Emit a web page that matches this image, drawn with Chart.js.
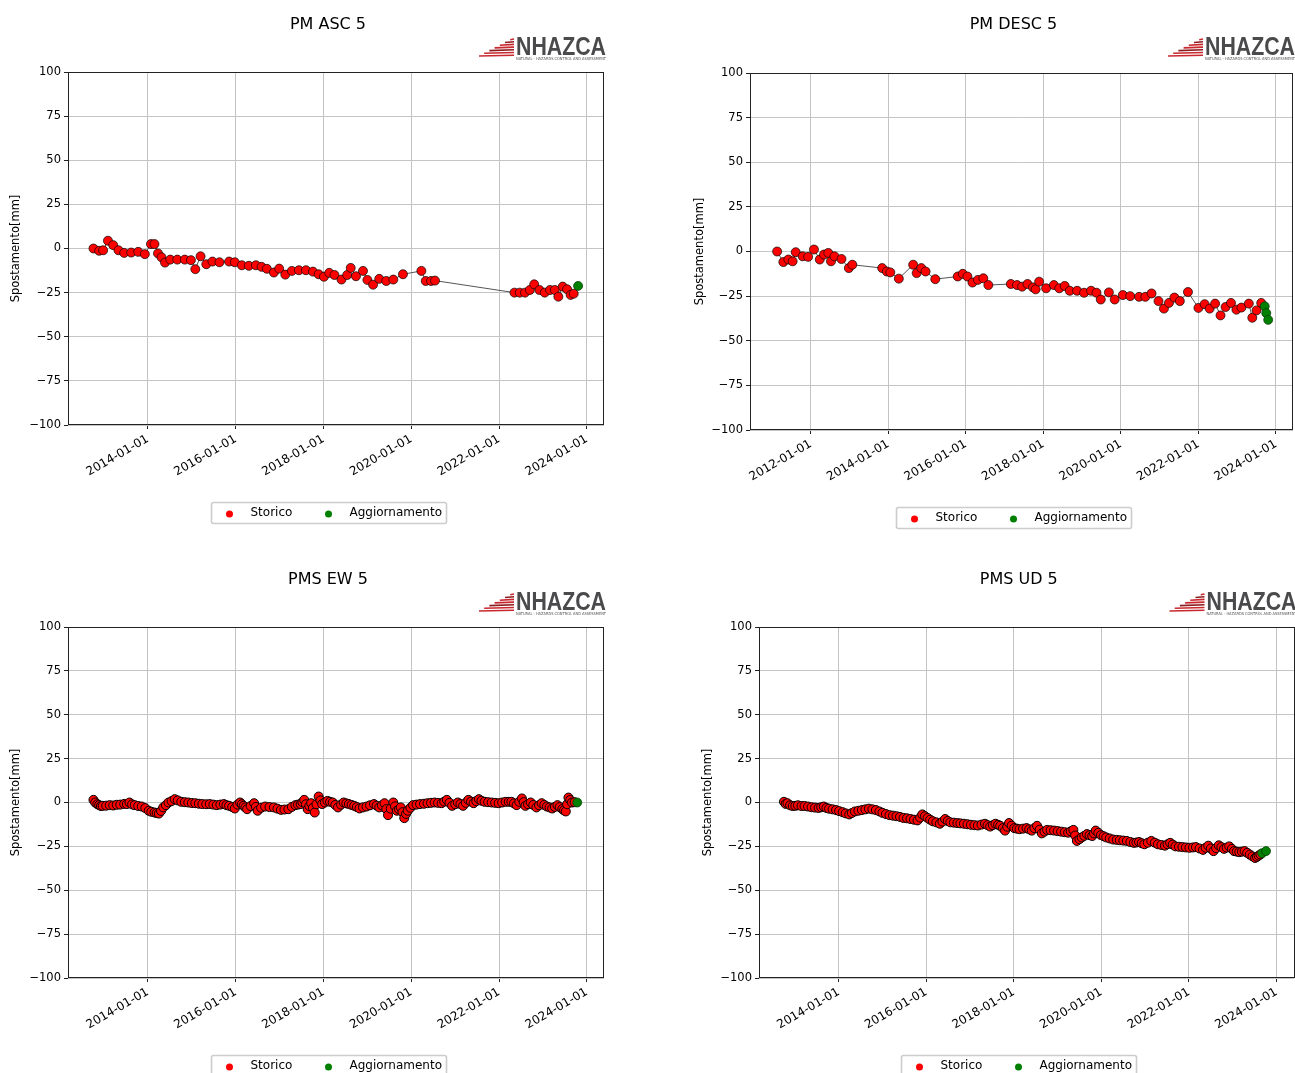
<!DOCTYPE html>
<html>
<head>
<meta charset="utf-8">
<script src="https://cdn.jsdelivr.net/npm/chart.js@4.4.0/dist/chart.umd.min.js"></script>
<style>
  body { margin: 0; background: #fff; overflow: hidden; width: 1295px; height: 1073px; position: relative; }
  canvas { position: absolute; }
</style>
</head>
<body>
<canvas id="asc" width="647" height="540" style="left:0;top:0"></canvas>
<canvas id="desc" width="620" height="540" style="left:680px;top:0"></canvas>
<canvas id="ew" width="647" height="540" style="left:0;top:555px"></canvas>
<canvas id="ud" width="620" height="540" style="left:680px;top:555px"></canvas>
<script>
// data, dates as decimal years, values in mm
var ascDates = [2012.76,2012.89,2012.98,2013.09,2013.21,2013.33,2013.46,2013.62,2013.78,2013.93,
  2014.07,2014.15,2014.23,2014.31,2014.39,2014.51,2014.67,2014.84,2014.98,
  2015.08,2015.20,2015.33,2015.47,2015.63,2015.85,2015.98,
  2016.14,2016.30,2016.46,2016.59,2016.71,2016.87,2016.99,
  2017.13,2017.28,2017.44,2017.60,2017.76,2017.89,
  2018.01,2018.13,2018.25,2018.41,2018.54,2018.62,2018.74,2018.90,
  2019.00,2019.13,2019.27,2019.43,2019.59,2019.81,
  2020.23,2020.33,2020.45,2020.54,
  2022.35,2022.47,2022.59,2022.70,2022.80,2022.92,2023.04,2023.16,2023.27,2023.35,2023.45,2023.55,2023.63,2023.70];
var ascValues = [0,-1.3,-1,4.4,1.9,-1,-2.5,-2.3,-1.9,-3.2,
  2.5,2.5,-2.8,-5,-8,-6.3,-6.3,-6.3,-6.6,
  -11.7,-4.4,-8.9,-7.4,-7.8,-7.4,-7.8,
  -9.5,-9.8,-9.5,-10.4,-11.5,-13.6,-11.4,
  -14.8,-12.7,-12.3,-12.3,-13.1,-14.6,
  -16,-13.8,-15,-17.6,-15,-11,-15.7,-12.7,
  -17.8,-20.5,-17.2,-18.4,-17.6,-14.6,
  -12.7,-18.4,-18.4,-18.2,
  -25,-25,-25,-23.5,-20.3,-23.5,-25,-23.5,-23.5,-27.3,-21.6,-23.1,-26.3,-25.6];
var ascNewDates = [2023.80];
var ascNewValues = [-21.2];

var descDates = [2011.13,2011.29,2011.42,2011.53,2011.61,2011.79,2011.93,
  2012.08,2012.23,2012.34,2012.45,2012.52,2012.61,2012.79,2012.98,
  2013.07,2013.84,2013.96,
  2014.05,2014.27,2014.64,2014.73,2014.85,2014.96,
  2015.21,2015.79,2015.92,
  2016.04,2016.17,2016.31,2016.45,2016.58,
  2017.16,2017.32,2017.45,2017.59,2017.73,2017.80,2017.89,
  2018.07,2018.27,2018.41,2018.55,2018.68,2018.87,
  2019.05,2019.23,2019.37,2019.48,2019.69,2019.84,
  2020.05,2020.24,2020.47,2020.63,2020.79,2020.97,
  2021.11,2021.24,2021.38,2021.52,2021.73,
  2022.00,2022.16,2022.29,2022.43,2022.57,2022.70,2022.84,2022.98,
  2023.11,2023.30,2023.39,2023.50,2023.62];
var descValues = [0,-5.9,-4.5,-5.5,-0.4,-2.7,-3,
  1.1,-4.5,-1.7,-0.8,-5.5,-2.7,-4.2,-9.3,
  -7.4,-9.3,-11.2,
  -11.7,-15.2,-7.4,-12.1,-9.3,-11.2,
  -15.5,-14,-12.5,
  -14,-17.4,-15.9,-15,-18.8,
  -18.2,-18.8,-19.7,-18.2,-20.1,-21.2,-16.9,
  -20.6,-18.8,-20.6,-19.3,-22,-22,
  -23.1,-22,-23.1,-26.9,-22.9,-26.9,
  -24.4,-25,-25.4,-25.4,-23.5,-27.8,
  -32,-28.8,-25.8,-27.8,-22.7,
  -31.6,-29.5,-32,-29.2,-35.8,-31.1,-28.8,-32.6,
  -31.4,-29.2,-37.1,-33,-28.8];
var descNewDates = [2023.71,2023.75,2023.80];
var descNewValues = [-30.7,-34.5,-38.3];

var ewDates = [2012.76,2012.80,2012.85,2012.89,2012.93,2012.97,2013.05,2013.13,2013.21,2013.29,2013.37,2013.46,2013.52,2013.58,2013.64,2013.70,2013.78,2013.86,2013.94,
  2014.02,2014.08,2014.15,2014.20,2014.25,2014.30,2014.35,2014.41,2014.47,2014.54,2014.61,2014.68,2014.76,2014.84,2014.92,
  2015.00,2015.08,2015.16,2015.24,2015.33,2015.41,2015.49,2015.57,2015.65,2015.73,2015.79,2015.85,2015.92,2015.98,
  2016.04,2016.10,2016.14,2016.18,2016.22,2016.26,2016.34,2016.42,2016.46,2016.50,2016.58,2016.67,2016.77,2016.87,2016.95,
  2017.03,2017.11,2017.20,2017.28,2017.36,2017.42,2017.48,2017.52,2017.56,2017.60,2017.64,2017.68,2017.72,2017.76,2017.80,2017.84,2017.89,2017.93,2017.97,
  2018.03,2018.09,2018.15,2018.21,2018.27,2018.33,2018.40,2018.46,2018.52,2018.58,2018.64,2018.70,2018.76,2018.82,2018.90,2018.98,
  2019.06,2019.15,2019.21,2019.27,2019.33,2019.39,2019.43,2019.47,2019.53,2019.59,2019.63,2019.67,2019.72,2019.76,2019.80,2019.84,2019.88,2019.92,2019.98,
  2020.04,2020.12,2020.20,2020.29,2020.37,2020.45,2020.53,2020.61,2020.69,2020.75,2020.81,2020.87,2020.93,
  2021.00,2021.06,2021.12,2021.18,2021.24,2021.30,2021.36,2021.42,2021.48,2021.54,2021.60,2021.67,2021.75,2021.83,2021.91,2021.99,
  2022.07,2022.15,2022.22,2022.28,2022.34,2022.40,2022.46,2022.52,2022.56,2022.60,2022.66,2022.72,2022.78,2022.85,2022.91,2022.97,
  2023.03,2023.09,2023.15,2023.21,2023.27,2023.33,2023.38,2023.44,2023.48,2023.52,2023.55,2023.58,2023.62,2023.66,2023.72];
var ewValues = [1.5,0,-1.0,-1.5,-2.0,-1.9,-1.8,-1.5,-1.7,-1.3,-1.2,-0.8,-0.9,0,-1.1,-1.5,-2.0,-2.3,-3.2,
  -4.7,-5.3,-5.7,-6.0,-6.3,-4.8,-2.8,-1.5,0,0.8,1.9,1.2,0.4,0.2,0,
  -0.3,-0.4,-0.7,-0.9,-1.0,-0.9,-1.2,-1.5,-1.2,-0.9,-1.5,-1.9,-2.6,-3.4,
  -1.2,0,-1.0,-1.9,-2.8,-3.8,-2.0,-0.4,-2.5,-4.7,-3.0,-2.3,-2.6,-2.8,-3.5,
  -4.2,-4.0,-3.8,-2.5,-1.5,-1.2,-0.9,0.2,1.5,-1.0,-3.8,-2.0,-0.4,-3.0,-5.7,-1.0,3.4,1.2,-0.9,
  0,0.9,0.4,0,-1.4,-2.8,-1.2,0,-0.5,-0.9,-1.4,-1.9,-2.6,-3.4,-2.8,-2.3,
  -1.6,-0.9,-1.8,-2.8,-1.6,-0.4,-3.8,-7.2,-3.5,0,-2.2,-4.7,-3.8,-2.8,-5.5,-8.9,-6.5,-4.7,-3.0,
  -1.5,-1.2,-0.9,-0.7,-0.4,-0.2,0,-0.2,-0.4,0.5,1.5,-0.2,-1.9,
  -1.0,0,-0.9,-1.9,-0.2,1.5,0.5,-0.4,0.8,1.9,1.0,0.4,0.2,0,-0.2,-0.4,
  0,0.4,0.4,0.4,-0.5,-1.5,0.4,2.3,0.2,-1.9,-1.0,0,-1.4,-2.8,-1.6,-0.4,
  -1.4,-2.3,-2.8,-3.4,-2.5,-1.5,-2.6,-3.8,-4.5,-5.1,-1.0,2.8,1.4,0,0.2];
var ewNewDates = [2023.78];
var ewNewValues = [0];

var udDates = [2012.75,2012.79,2012.83,2012.89,2012.95,
  2013.01,2013.07,2013.15,2013.22,2013.30,2013.38,2013.46,2013.54,2013.60,2013.66,2013.72,2013.78,2013.86,2013.94,
  2014.01,2014.09,2014.16,2014.24,2014.30,2014.37,2014.45,2014.53,2014.61,2014.69,2014.77,2014.85,2014.93,
  2015.00,2015.08,2015.16,2015.24,2015.32,2015.40,2015.48,2015.56,2015.64,2015.72,2015.80,2015.86,2015.91,2015.97,
  2016.03,2016.09,2016.15,2016.23,2016.31,2016.37,2016.43,2016.49,2016.55,2016.63,2016.71,2016.78,2016.86,2016.94,
  2017.02,2017.10,2017.18,2017.26,2017.34,2017.40,2017.46,2017.52,2017.58,2017.64,2017.69,2017.75,2017.80,2017.85,2017.89,2017.95,
  2018.01,2018.07,2018.13,2018.21,2018.29,2018.35,2018.41,2018.47,2018.53,2018.59,2018.64,2018.70,2018.76,2018.84,2018.92,
  2019.00,2019.08,2019.16,2019.24,2019.30,2019.36,2019.40,2019.44,2019.50,2019.55,2019.61,2019.67,2019.73,2019.79,2019.83,2019.87,2019.93,2019.99,
  2020.05,2020.11,2020.19,2020.27,2020.35,2020.42,2020.50,2020.58,2020.66,2020.74,2020.80,2020.86,2020.92,2020.98,
  2021.06,2021.14,2021.22,2021.29,2021.37,2021.45,2021.51,2021.57,2021.63,2021.69,2021.77,2021.85,2021.93,
  2022.01,2022.09,2022.16,2022.24,2022.32,2022.38,2022.44,2022.50,2022.56,2022.62,2022.68,2022.74,2022.80,2022.86,2022.92,2022.98,
  2023.03,2023.09,2023.15,2023.21,2023.27,2023.33,2023.39,2023.45,2023.51,2023.55,2023.59,2023.63];
var udValues = [0.4,-0.8,-0.4,-1.6,-2.0,
  -1.9,-1.6,-2.0,-2.0,-2.3,-2.7,-2.9,-3.1,-2.7,-2.3,-3.1,-3.5,-3.9,-4.3,
  -4.9,-5.5,-6.2,-6.8,-6.0,-5.1,-4.7,-4.3,-3.9,-3.5,-3.9,-4.3,-5.1,
  -5.9,-6.6,-7.2,-7.5,-7.8,-8.2,-8.8,-9.0,-9.4,-9.8,-10.2,-8.6,-6.8,-7.8,
  -8.8,-9.8,-10.7,-11.3,-12.1,-10.9,-9.4,-10.5,-11.3,-11.5,-11.7,-11.9,-12.1,-12.4,
  -12.7,-12.9,-13.1,-12.6,-12.1,-12.9,-13.7,-12.9,-12.1,-12.7,-13.3,-14.6,-16.0,-13.8,-11.7,-13.2,
  -14.6,-14.9,-15.2,-14.9,-14.6,-15.3,-16.0,-14.6,-13.3,-15.5,-17.6,-16.6,-15.6,-15.8,-16.0,
  -16.3,-16.6,-16.9,-17.2,-16.4,-15.6,-18.8,-21.9,-20.9,-19.9,-19.0,-18.0,-18.6,-19.1,-17.6,-16.0,-17.3,-18.6,
  -19.2,-19.9,-20.5,-21.1,-21.3,-21.5,-21.7,-21.9,-22.5,-23.0,-22.8,-22.5,-23.2,-23.8,
  -22.9,-21.9,-22.9,-23.8,-24.2,-24.6,-23.8,-23.0,-24.0,-25.0,-25.2,-25.4,-25.6,
  -25.8,-25.6,-25.4,-26.2,-27.0,-25.8,-24.6,-26.2,-27.7,-26.0,-24.4,-25.4,-26.4,-25.7,-25.0,-26.4,
  -27.7,-28.0,-28.3,-28.0,-27.7,-28.7,-29.7,-30.7,-31.6,-31.0,-30.3,-29.6];
var udNewDates = [2023.67,2023.76];
var udNewValues = [-28.9,-27.7];

var yTicks = [-100, -75, -50, -25, 0, 25, 50, 75, 100];
var xTicksLong = [2012, 2014, 2016, 2018, 2020, 2022, 2024];
var xTicksShort = [2014, 2016, 2018, 2020, 2022, 2024];
var legendLabels = ['Storico', 'Aggiornamento'];

Chart.defaults.font.family = '"DejaVu Sans", sans-serif';
Chart.defaults.color = '#000';

function pts(dates, values) {
  return dates.map(function (d, i) { return { x: d, y: values[i] }; });
}

function drawLogo(ctx, right, base) {
  ctx.font = 'bold 25px "Liberation Sans Narrow", "Liberation Sans"';
  ctx.textAlign = 'right';
  ctx.textBaseline = 'alphabetic';
  ctx.fillStyle = '#4a4a4c';
  ctx.fillText('NHAZCA', right, base, 90);
  var w = Math.min(ctx.measureText('NHAZCA').width, 90);
  var left = right - w;
  // striped wedge
  ctx.lineWidth = 1.6;
  for (var i = 0; i < 7; i++) {
    var y = base + 1 - i * 2.7;
    ctx.strokeStyle = i % 3 === 2 ? '#8c1c20' : '#c8282e';
    ctx.beginPath();
    ctx.moveTo(left - 37 + i * 5.2, y);
    ctx.lineTo(left - 2, y - 0.8);
    ctx.stroke();
  }
  ctx.font = '4px "DejaVu Sans"';
  ctx.textAlign = 'left';
  ctx.fillStyle = '#555';
  ctx.fillText('NATURAL - HAZARDS CONTROL AND ASSESSMENT', left, base + 4.5, w);
}

var panelDeco = {
  id: 'panelDeco',
  afterDraw: function (chart, args, opts) {
    var ctx = chart.ctx, a = chart.chartArea;
    var cx = (a.left + a.right) / 2 - 8;
    ctx.save();
    // frame
    ctx.strokeStyle = '#222';
    ctx.lineWidth = 1;
    ctx.strokeRect(Math.round(a.left) + 0.5, Math.round(a.top) + 0.5,
      Math.round(a.right - a.left) - 1, Math.round(a.bottom - a.top) - 1);
    // title
    ctx.fillStyle = '#000';
    ctx.font = '16px "DejaVu Sans"';
    ctx.textAlign = 'center';
    ctx.textBaseline = 'middle';
    ctx.fillText(opts.title, cx, 25);
    drawLogo(ctx, a.right + 2, 55);
    // legend
    var bw = 235, bh = 21;
    var bx = Math.round(cx - bw / 2) + 0.5, by = Math.round(a.bottom + 77) + 0.5;
    ctx.strokeStyle = '#cccccc';
    ctx.fillStyle = '#fff';
    ctx.beginPath();
    ctx.roundRect(bx, by, bw, bh, 2);
    ctx.fill();
    ctx.stroke();
    var cols = ['red', 'green'];
    var offs = [18, 117];
    ctx.font = '12px "DejaVu Sans"';
    ctx.textAlign = 'left';
    ctx.textBaseline = 'middle';
    for (var i = 0; i < 2; i++) {
      ctx.fillStyle = cols[i];
      ctx.beginPath();
      ctx.arc(bx + offs[i], by + bh / 2 + 1, 3.5, 0, Math.PI * 2);
      ctx.fill();
      ctx.fillStyle = '#000';
      ctx.fillText(legendLabels[i], bx + offs[i] + 21, by + bh / 2);
    }
    ctx.restore();
  }
};

function makePanel(id, cfg) {
  return new Chart(document.getElementById(id), {
    type: 'scatter',
    data: {
      datasets: [{
        label: legendLabels[1],
        data: pts(cfg.newDates, cfg.newValues),
        backgroundColor: 'green',
        borderColor: '#003300',
        pointRadius: 4.5,
        pointBorderWidth: 0.7,
        showLine: false,
        order: 0
      }, {
        label: legendLabels[0],
        data: pts(cfg.dates, cfg.values),
        showLine: true,
        borderColor: '#555',
        borderWidth: 1,
        pointBackgroundColor: 'red',
        pointBorderColor: '#000',
        pointBorderWidth: cfg.edge,
        pointRadius: 4.5,
        order: 1
      }]
    },
    options: {
      responsive: false,
      animation: false,
      devicePixelRatio: 1,
      layout: { padding: { top: cfg.top, right: cfg.right, left: 0, bottom: 0 } },
      plugins: {
        legend: { display: false },
        tooltip: { enabled: false },
        panelDeco: { title: cfg.title }
      },
      scales: {
        x: {
          type: 'linear',
          min: cfg.xmin,
          max: cfg.xmax,
          afterBuildTicks: function (s) { s.ticks = cfg.xticks.map(function (v) { return { value: v }; }); },
          afterFit: function (s) { s.height = cfg.xh; },
          ticks: {
            autoSkip: false,
            minRotation: 30,
            maxRotation: 30,
            padding: 3,
            font: { size: 12 },
            callback: function (v) { return Math.round(v) + '-01-01'; }
          },
          grid: { color: '#c4c4c4', tickColor: '#222', tickLength: 4 },
          border: { display: false }
        },
        y: {
          min: -100,
          max: 100,
          afterBuildTicks: function (s) { s.ticks = yTicks.map(function (v) { return { value: v }; }); },
          afterFit: function (s) { s.width = cfg.yw; },
          ticks: {
            padding: 3,
            font: { size: 11.5 },
            callback: function (v) { return String(v).replace('-', '\u2212'); }
          },
          grid: { color: '#c4c4c4', tickColor: '#222', tickLength: 4 },
          border: { display: false },
          title: {
            display: true,
            text: 'Spostamento[mm]',
            font: { size: 11.5 },
            padding: { top: cfg.ytitle, bottom: 0 }
          }
        }
      }
    },
    plugins: [panelDeco]
  });
}

makePanel('asc', {
  title: 'PM ASC 5', dates: ascDates, values: ascValues, newDates: ascNewDates, newValues: ascNewValues,
  xmin: 2012.18, xmax: 2024.39, xticks: xTicksShort, top: 72, right: 43, yw: 68, xh: 115, ytitle: 9.5, edge: 0.7
});
makePanel('desc', {
  title: 'PM DESC 5', dates: descDates, values: descValues, newDates: descNewDates, newValues: descNewValues,
  xmin: 2010.43, xmax: 2024.44, xticks: xTicksLong, top: 73, right: 7, yw: 70, xh: 110, ytitle: 13.5, edge: 0.7
});
makePanel('ew', {
  title: 'PMS EW 5', dates: ewDates, values: ewValues, newDates: ewNewDates, newValues: ewNewValues,
  xmin: 2012.18, xmax: 2024.39, xticks: xTicksShort, top: 72, right: 43, yw: 68, xh: 117, ytitle: 9.5, edge: 1
});
makePanel('ud', {
  title: 'PMS UD 5', dates: udDates, values: udValues, newDates: udNewDates, newValues: udNewValues,
  xmin: 2012.18, xmax: 2024.41, xticks: xTicksShort, top: 72, right: 3, yw: 79, xh: 117, ytitle: 21.5, edge: 1
});
</script>
</body>
</html>
